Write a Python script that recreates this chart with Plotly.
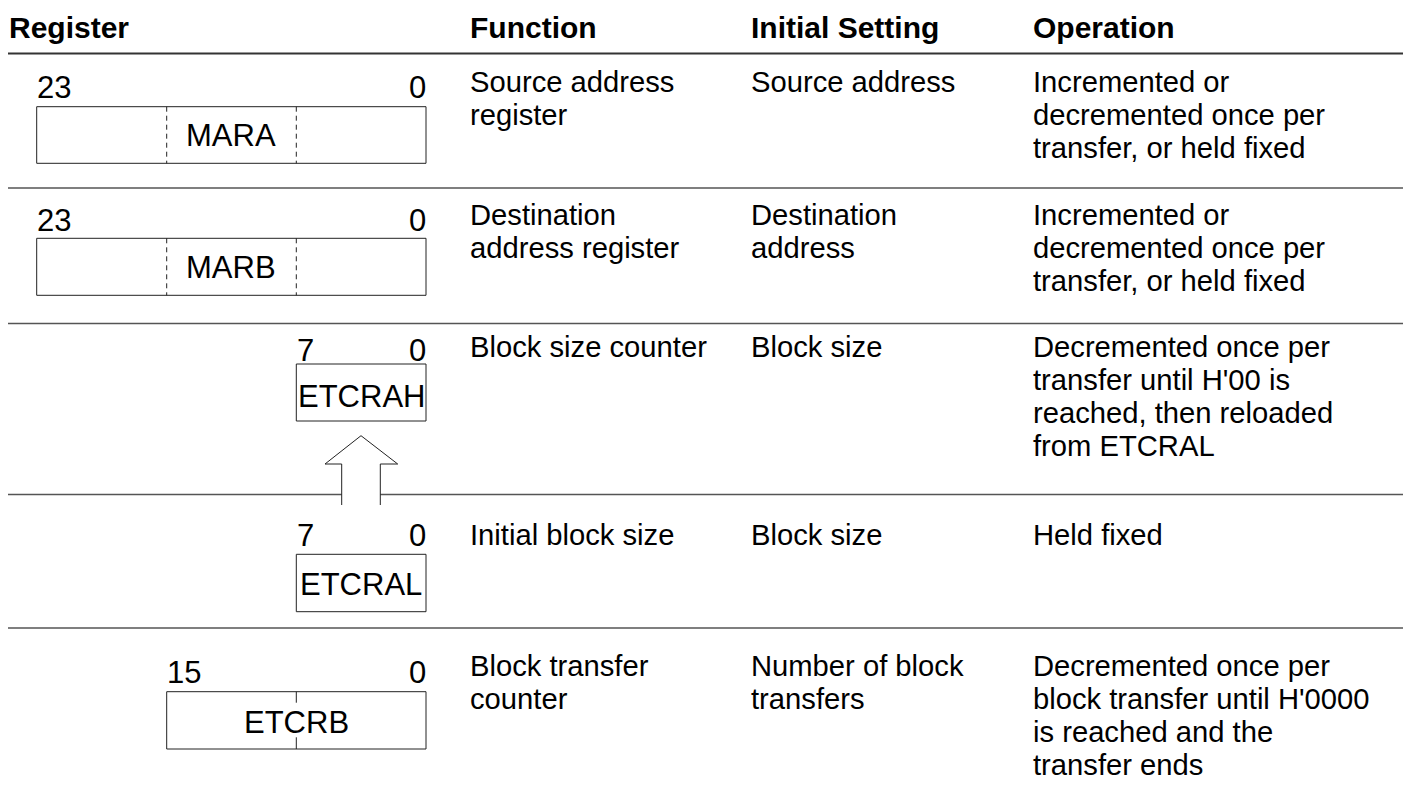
import plotly.graph_objects as go

W, H = 1411, 794
PAD = 8  # default page margin around the plot div
FONT = "Liberation Sans, Arial, Helvetica, sans-serif"

# ---- table content ----
headers = ["Register", "Function", "Initial Setting", "Operation"]
functions = [
    ["Source address", "register"],
    ["Destination", "address register"],
    ["Block size counter"],
    ["Initial block size"],
    ["Block transfer", "counter"],
]
initial_settings = [
    ["Source address"],
    ["Destination", "address"],
    ["Block size"],
    ["Block size"],
    ["Number of block", "transfers"],
]
operations = [
    ["Incremented or", "decremented once per", "transfer, or held fixed"],
    ["Incremented or", "decremented once per", "transfer, or held fixed"],
    ["Decremented once per", "transfer until H'00 is", "reached, then reloaded", "from ETCRAL"],
    ["Held fixed"],
    ["Decremented once per", "block transfer until H'0000", "is reached and the", "transfer ends"],
]
register_names = ["MARA", "MARB", "ETCRAH", "ETCRAL", "ETCRB"]
register_msb = ["23", "23", "7", "7", "15"]
register_lsb = ["0", "0", "0", "0", "0"]

# ---- layout geometry (page pixels) ----
header_y = 27
rule_ys = [53.5, 188, 323.5, 494.5, 628]
row_first_line = [82, 215, 346.5, 535, 665.5]
line_step = 33
col_x = [9, 470, 751, 1033]
box_left = [36.7, 36.7, 296.3, 296.3, 166.7]
box_right = 426
box_top = [106.7, 238.3, 364, 554.3, 691.7]
box_bot = [163.3, 295.3, 421, 611.7, 749]
name_y = [135.5, 267.5, 396, 584, 722]
bit_label_y = [87, 220, 350, 535, 672]
dash_div = [[166.7, 296.3], [166.7, 296.3], [], [], []]

BODY = 29.2
REG = 31
HEAD = 30

fig = go.Figure()
shapes = []
ann = []

def text(x, y, s, bold=False, anchor="left", size=BODY):
    ann.append(dict(x=x, y=y, xref="x", yref="y", text=(f"<b>{s}</b>" if bold else s),
                    showarrow=False, xanchor=anchor, yanchor="middle",
                    borderpad=0, borderwidth=0,
                    font=dict(family=FONT, size=size, color="#000")))

# headers
for h, x in zip(headers, col_x):
    text(x, header_y, h, bold=True, size=HEAD)

# rules
for i, y in enumerate(rule_ys):
    shapes.append(dict(type="line", x0=PAD, x1=W, y0=y, y1=y, xref="x", yref="y",
                       line=dict(color="#333" if i == 0 else "#555", width=2 if i == 0 else 1.5)))

# body text
for r in range(5):
    for col, cells in zip(col_x[1:], [functions, initial_settings, operations]):
        for k, line in enumerate(cells[r]):
            text(col, row_first_line[r] + k * line_step, line)

# register boxes
for r in range(5):
    shapes.append(dict(type="rect", x0=box_left[r], x1=box_right, y0=box_top[r], y1=box_bot[r],
                       xref="x", yref="y", line=dict(color="#222", width=1), fillcolor="white",
                       layer="above"))
    for dx in dash_div[r]:
        shapes.append(dict(type="line", x0=dx, x1=dx, y0=box_top[r], y1=box_bot[r], xref="x", yref="y",
                           line=dict(color="#222", width=1, dash="5px,4px"), layer="above"))
    text(box_left[r] + 0.5, bit_label_y[r], register_msb[r], size=REG)
    text(box_right - 0.5, bit_label_y[r], register_lsb[r], anchor="right", size=REG)
    text((box_left[r] + box_right) / 2, name_y[r], register_names[r], anchor="center", size=REG)

# ETCRB middle ticks
mid = 296.3
shapes.append(dict(type="line", x0=mid, x1=mid, y0=box_top[4], y1=702.7, xref="x", yref="y",
                   line=dict(color="#222", width=1), layer="above"))
shapes.append(dict(type="line", x0=mid, x1=mid, y0=737.3, y1=box_bot[4], xref="x", yref="y",
                   line=dict(color="#222", width=1), layer="above"))

# reload arrow (ETCRAL -> ETCRAH)
ax = [341.7, 341.7, 325, 361, 397.7, 380.3, 380.3]
ay = [505, 464, 464, 435.7, 464, 464, 505]
path = "M " + " L ".join(f"{x},{y}" for x, y in zip(ax, ay))
shapes.append(dict(type="path", path=path, xref="x", yref="y", fillcolor="white",
                   line=dict(color="#222", width=1), layer="above"))

fig.update_layout(
    width=W - PAD, height=H - PAD, margin=dict(l=0, r=0, t=0, b=0),
    paper_bgcolor="white", plot_bgcolor="white",
    xaxis=dict(range=[PAD, W], visible=False, fixedrange=True),
    yaxis=dict(range=[H, PAD], visible=False, fixedrange=True),
    shapes=shapes, annotations=ann, showlegend=False,
)
fig.write_html("out.html")
